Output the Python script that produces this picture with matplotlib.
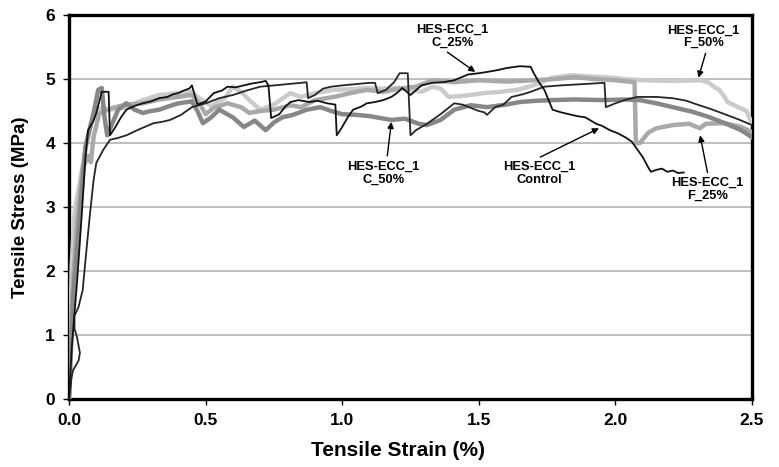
import matplotlib
matplotlib.use("Agg")
import matplotlib.pyplot as plt
from matplotlib import font_manager

# ---------------- data ----------------
ctrl_x = [0, 0.01, 0.03, 0.047, 0.06, 0.07, 0.09, 0.10, 0.12, 0.145, 0.15, 0.17, 0.19, 0.21, 0.24,
          0.27, 0.30, 0.33, 0.36, 0.38, 0.40, 0.42, 0.44, 0.45, 0.46, 0.47, 0.50, 0.53, 0.56, 0.58,
          0.61, 0.64, 0.67, 0.70, 0.72, 0.73, 0.74, 0.77, 0.79, 0.81, 0.84, 0.88, 0.91, 0.945,
          0.975, 0.98, 1.00, 1.02, 1.04, 1.07, 1.09, 1.12, 1.15, 1.18, 1.20, 1.22, 1.25, 1.29,
          1.33, 1.37, 1.41, 1.46, 1.50, 1.53, 1.57, 1.60, 1.65, 1.69, 1.70, 1.72, 1.74, 1.77,
          1.80, 1.83, 1.86, 1.89, 1.91, 1.93, 1.95, 1.98, 2.01, 2.04, 2.06, 2.08, 2.10, 2.12,
          2.13, 2.15, 2.17, 2.19, 2.21, 2.23, 2.25]
ctrl_y = [0, 0.8, 1.86, 2.9, 3.78, 4.2, 4.35, 4.47, 4.8, 4.8, 4.12, 4.25, 4.4, 4.52, 4.58,
          4.62, 4.65, 4.7, 4.72, 4.76, 4.78, 4.82, 4.85, 4.9, 4.75, 4.6, 4.65, 4.78, 4.82, 4.88,
          4.87, 4.9, 4.93, 4.95, 4.97, 4.9, 4.39, 4.45, 4.56, 4.64, 4.67, 4.64, 4.66, 4.62,
          4.6, 4.12, 4.25, 4.4, 4.52, 4.57, 4.62, 4.64, 4.67, 4.72, 4.78, 4.86, 4.75, 4.9,
          4.94, 4.95, 4.98, 5.07, 5.09, 5.11, 5.14, 5.17, 5.2, 5.19, 5.1, 4.95, 4.83, 4.52,
          4.48, 4.45, 4.42, 4.4, 4.35, 4.3, 4.27, 4.2, 4.15, 4.08, 4.02, 3.9, 3.78, 3.62,
          3.55, 3.58, 3.6, 3.55, 3.57, 3.53, 3.54]

c25_x = [0, 0.01, 0.015, 0.035, 0.04, 0.03, 0.02, 0.02, 0.035, 0.05, 0.065, 0.077, 0.09, 0.10,
         0.125, 0.15, 0.18, 0.21, 0.26, 0.31, 0.34, 0.37, 0.41, 0.45, 0.50, 0.55, 0.60, 0.65,
         0.70, 0.75, 0.80, 0.85, 0.87, 0.875, 0.90, 0.93, 0.96, 1.00, 1.05, 1.10, 1.12, 1.13,
         1.16, 1.19, 1.21, 1.24, 1.25, 1.27, 1.31, 1.36, 1.41, 1.44, 1.47, 1.50, 1.52, 1.53,
         1.56, 1.59, 1.62, 1.66, 1.69, 1.74, 1.80, 1.88, 1.96, 1.965, 2.00, 2.04, 2.08, 2.15,
         2.21, 2.26, 2.30, 2.35, 2.40, 2.45, 2.50]
c25_y = [0, 0.35, 0.45, 0.6, 0.72, 0.95, 1.1, 1.3, 1.44, 1.7, 2.38, 2.9, 3.42, 3.69,
         3.89, 4.05, 4.08, 4.12, 4.22, 4.31, 4.33, 4.36, 4.44, 4.56, 4.62, 4.7, 4.75, 4.82,
         4.88, 4.9, 4.92, 4.94, 4.95, 4.70, 4.75, 4.85, 4.88, 4.9, 4.92, 4.94, 4.94, 4.78,
         4.83, 4.95, 5.09, 5.09, 4.12, 4.2, 4.3, 4.45, 4.62, 4.6, 4.55, 4.5, 4.48, 4.44,
         4.56, 4.6, 4.72, 4.76, 4.8, 4.88, 4.9, 4.92, 4.94, 4.56, 4.62, 4.68, 4.72, 4.72,
         4.7, 4.66, 4.6, 4.53, 4.45, 4.37, 4.28]

c50_x = [0, 0.015, 0.04, 0.06, 0.09, 0.107, 0.12, 0.13, 0.14, 0.18, 0.21, 0.24, 0.27, 0.30,
         0.33, 0.37, 0.40, 0.45, 0.47, 0.49, 0.52, 0.55, 0.60, 0.64, 0.68, 0.72, 0.75, 0.78,
         0.82, 0.87, 0.92, 0.96, 1.00, 1.05, 1.10, 1.14, 1.18, 1.23, 1.28, 1.31, 1.36, 1.41,
         1.47, 1.53, 1.60, 1.65, 1.71, 1.77, 1.85, 1.96, 2.03, 2.09, 2.15, 2.21, 2.28, 2.34,
         2.40, 2.46, 2.50]
c50_y = [0, 1.6, 2.9, 3.94, 4.47, 4.83, 4.86, 4.4, 4.12, 4.52, 4.62, 4.52, 4.47, 4.5,
         4.52, 4.58, 4.62, 4.65, 4.5, 4.31, 4.4, 4.52, 4.4, 4.25, 4.35, 4.2, 4.32, 4.4,
         4.44, 4.52, 4.56, 4.5, 4.45, 4.44, 4.42, 4.39, 4.36, 4.38, 4.3, 4.28, 4.36, 4.52,
         4.59, 4.56, 4.6, 4.64, 4.66, 4.67, 4.68, 4.67, 4.68, 4.67, 4.62, 4.56, 4.49, 4.41,
         4.31, 4.2, 4.09]

f25_x = [0, 0.01, 0.03, 0.05, 0.07, 0.08, 0.09, 0.11, 0.13, 0.16, 0.21, 0.27, 0.33, 0.40,
         0.45, 0.48, 0.50, 0.53, 0.58, 0.63, 0.66, 0.70, 0.75, 0.81, 0.85, 0.90, 0.97, 1.03,
         1.09, 1.15, 1.21, 1.27, 1.33, 1.41, 1.50, 1.60, 1.70, 1.78, 1.85, 1.92, 2.00, 2.07,
         2.075, 2.09, 2.12, 2.15, 2.21, 2.27, 2.31, 2.33, 2.40, 2.46, 2.50]
f25_y = [0, 1.5, 2.8, 3.6, 3.8, 3.7, 4.1, 4.45, 4.5, 4.55, 4.6, 4.62, 4.68, 4.72,
         4.75, 4.6, 4.45, 4.55, 4.62, 4.56, 4.47, 4.5, 4.52, 4.59, 4.56, 4.67, 4.72, 4.78,
         4.83, 4.8, 4.85, 4.88, 4.98, 4.95, 4.98, 4.96, 4.98, 5.0, 5.03, 5.0, 4.98, 4.95,
         4.0, 4.0, 4.16, 4.23, 4.28, 4.3, 4.23, 4.3, 4.31, 4.25, 4.17]

f50_x = [0, 0.01, 0.02, 0.04, 0.06, 0.08, 0.10, 0.12, 0.15, 0.21, 0.27, 0.33, 0.40, 0.45,
         0.47, 0.52, 0.57, 0.60, 0.63, 0.66, 0.70, 0.75, 0.81, 0.85, 0.90, 0.97, 1.03, 1.09,
         1.15, 1.21, 1.29, 1.33, 1.36, 1.39, 1.45, 1.52, 1.58, 1.64, 1.70, 1.77, 1.84, 1.90,
         1.96, 2.03, 2.10, 2.20, 2.31, 2.34, 2.36, 2.38, 2.40, 2.41, 2.45, 2.48, 2.49, 2.50]
f50_y = [0, 2.1, 2.9, 3.4, 3.9, 4.3, 4.5, 4.55, 4.52, 4.56, 4.67, 4.75, 4.78, 4.8,
         4.72, 4.58, 4.7, 4.88, 4.8, 4.67, 4.52, 4.6, 4.78, 4.72, 4.78, 4.83, 4.84, 4.86,
         4.85, 4.86, 4.8, 4.88, 4.85, 4.72, 4.74, 4.78, 4.8, 4.83, 4.9, 5.02, 5.06, 5.04,
         5.03, 5.0, 4.98, 4.97, 4.98, 4.95, 4.88, 4.83, 4.72, 4.64, 4.56, 4.5, 4.4, 4.31]

x_ticks = [0.0, 0.5, 1.0, 1.5, 2.0, 2.5]
x_ticklabels = ["0.0", "0.5", "1.0", "1.5", "2.0", "2.5"]
y_ticks = [0, 1, 2, 3, 4, 5, 6]
y_ticklabels = ["0", "1", "2", "3", "4", "5", "6"]

labels = ["HES-ECC_1\nC_25%", "HES-ECC_1\nC_50%", "HES-ECC_1\nControl",
          "HES-ECC_1\nF_50%", "HES-ECC_1\nF_25%"]
label_text_xy = [(1.403, 5.67), (1.15, 3.53), (1.72, 3.52), (2.322, 5.66), (2.337, 3.27)]
label_tail_xy = [(1.385, 5.42), (1.165, 3.80), (1.725, 3.78), (2.33, 5.40), (2.337, 3.54)]
label_tip_xy = [(1.487, 5.11), (1.18, 4.33), (1.94, 4.23), (2.304, 5.02), (2.31, 4.12)]

# ---------------- fonts ----------------
avail = {f.name for f in font_manager.fontManager.ttflist}
narrow = "Liberation Sans Narrow" if "Liberation Sans Narrow" in avail else "Liberation Sans"

fig = plt.figure(figsize=(7.79, 4.67), dpi=100)
ax = fig.add_axes([69/779, 1 - 399/467, (752-69)/779, (399-15)/467])

# curves (drawn light to dark so dark lines sit on top)
ax.plot(f50_x, f50_y, color="#cbcbcb", lw=3.2, solid_joinstyle="round", zorder=3)
ax.plot(f25_x, f25_y, color="#a9a9a9", lw=3.2, solid_joinstyle="round", zorder=3)
ax.plot(c50_x, c50_y, color="#878787", lw=3.2, solid_joinstyle="round", zorder=4)
ax.plot(c25_x, c25_y, color="#262626", lw=1.3, zorder=5)
ax.plot(ctrl_x, ctrl_y, color="#111111", lw=1.3, zorder=5)

ax.set_xlim(0, 2.5)
ax.set_ylim(0, 6)
ax.set_xticks(x_ticks)
ax.set_xticklabels(x_ticklabels)
ax.set_yticks(y_ticks)
ax.set_yticklabels(y_ticklabels)
ax.grid(axis="y", color="#b4b4b4", lw=1.2, zorder=1)
ax.set_axisbelow(True)
for s in ax.spines.values():
    s.set_linewidth(2.4)
    s.set_color("black")
ax.tick_params(direction="out", length=4, width=1, colors="black", pad=6)
for t in ax.get_xticklabels() + ax.get_yticklabels():
    t.set_fontfamily(narrow)
    t.set_fontweight("bold")
    t.set_fontsize(12.5)

ax.set_xlabel("Tensile Strain (%)", fontfamily=narrow, fontweight="bold", fontsize=15, labelpad=10)
ax.xaxis.set_label_coords(0.482, -0.11)
ax.set_ylabel("Tensile Stress (MPa)", fontfamily="Liberation Sans", fontweight="bold", fontsize=13.5, labelpad=12)

for lab, txy, tail, tip in zip(labels, label_text_xy, label_tail_xy, label_tip_xy):
    ax.text(txy[0], txy[1], lab, ha="center", va="center",
            fontfamily="Liberation Sans", fontweight="bold", fontsize=9.3,
            linespacing=1.1, zorder=6)
    ax.annotate("", xy=tip, xytext=tail, zorder=6,
                arrowprops=dict(arrowstyle="-|>", color="black", lw=1.0,
                                mutation_scale=9, shrinkA=0, shrinkB=0))

fig.savefig("out.png", dpi=100)
